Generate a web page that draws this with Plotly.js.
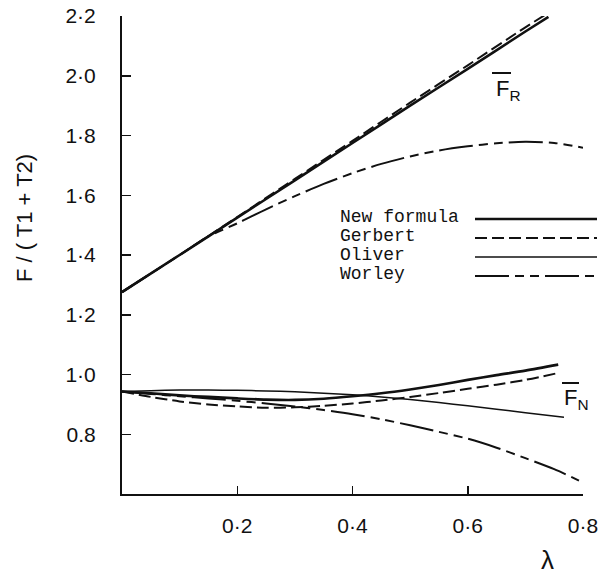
<!DOCTYPE html>
<html>
<head>
<meta charset="utf-8">
<script src="https://cdn.plot.ly/plotly-3.0.1.min.js"></script>
<style>html,body{margin:0;padding:0;background:#fff;}#chart{width:598px;height:575px;}</style>
</head>
<body>
<div id="chart"></div>
<script>
// ---- data ----
const seriesNames = ["New formula", "Gerbert", "Oliver", "Worley"];

// upper family (F_R)
const lamR_new = [0, 0.1, 0.2, 0.3, 0.4, 0.5, 0.6, 0.7, 0.74];
const fr_new   = [1.276, 1.40, 1.525, 1.65, 1.775, 1.90, 2.023, 2.148, 2.197];
const lamR_ger = [0, 0.1, 0.2, 0.3, 0.4, 0.5, 0.6, 0.7, 0.742];
const fr_ger   = [1.276, 1.40, 1.527, 1.655, 1.782, 1.91, 2.035, 2.162, 2.213];
const lamR_wor = [0, 0.1, 0.15, 0.2, 0.25, 0.3, 0.35, 0.4, 0.45, 0.5, 0.55, 0.6, 0.65, 0.7, 0.75, 0.8];
const fr_wor   = [1.276, 1.40, 1.462, 1.506, 1.553, 1.597, 1.638, 1.674, 1.705, 1.73, 1.75, 1.764, 1.774, 1.779, 1.775, 1.759];

// lower family (F_N)
const lamN_new = [0, 0.05, 0.1, 0.15, 0.2, 0.25, 0.3, 0.35, 0.4, 0.45, 0.5, 0.55, 0.6, 0.65, 0.7, 0.757];
const fn_new   = [0.943, 0.937, 0.93, 0.925, 0.92, 0.916, 0.915, 0.919, 0.927, 0.937, 0.95, 0.965, 0.982, 0.998, 1.013, 1.033];
const lamN_ger = [0, 0.05, 0.1, 0.15, 0.2, 0.25, 0.3, 0.35, 0.4, 0.45, 0.5, 0.55, 0.6, 0.65, 0.7, 0.757];
const fn_ger   = [0.943, 0.925, 0.91, 0.9, 0.893, 0.889, 0.89, 0.895, 0.903, 0.913, 0.925, 0.938, 0.952, 0.966, 0.982, 1.005];
const lamN_oli = [0, 0.05, 0.1, 0.15, 0.2, 0.25, 0.3, 0.35, 0.4, 0.45, 0.5, 0.55, 0.6, 0.65, 0.7, 0.767];
const fn_oli   = [0.943, 0.946, 0.948, 0.948, 0.947, 0.945, 0.942, 0.937, 0.932, 0.925, 0.916, 0.906, 0.895, 0.884, 0.872, 0.857];
const lamN_wor = [0, 0.05, 0.1, 0.15, 0.2, 0.25, 0.3, 0.35, 0.4, 0.45, 0.5, 0.55, 0.6, 0.65, 0.7, 0.75, 0.793];
const fn_wor   = [0.943, 0.935, 0.927, 0.92, 0.912, 0.903, 0.893, 0.881, 0.867, 0.85, 0.83, 0.808, 0.785, 0.755, 0.72, 0.683, 0.645];

const xTickVals = [0.2, 0.4, 0.6, 0.8];
const xTickText = ["0·2", "0·4", "0·6", "0·8"];
const yTickVals = [0.8, 1.0, 1.2, 1.4, 1.6, 1.8, 2.0, 2.2];
const yTickText = ["0.8", "1·0", "1·2", "1·4", "1·6", "1·8", "2·0", "2·2"];

// ---- styles ----
const INK = "#111111";
const styles = {
  "New formula": {width: 2.6, dash: "solid"},
  "Gerbert":     {width: 2.0, dash: "12px,5px"},
  "Oliver":      {width: 1.5, dash: "solid"},
  "Worley":      {width: 2.0, dash: "34px,6px,9px,6px,9px,6px"}
};
function tr(x, y, name) {
  return {x: x, y: y, name: name, type: "scatter", mode: "lines", showlegend: false,
          hoverinfo: "skip", line: {color: INK, width: styles[name].width, dash: styles[name].dash, shape: "spline", smoothing: 0.8}};
}
const data = [
  tr(lamR_wor, fr_wor, "Worley"),
  tr(lamR_ger, fr_ger, "Gerbert"),
  tr(lamR_new, fr_new, "New formula"),
  tr(lamN_oli, fn_oli, "Oliver"),
  tr(lamN_wor, fn_wor, "Worley"),
  tr(lamN_ger, fn_ger, "Gerbert"),
  tr(lamN_new, fn_new, "New formula")
];

// legend built from text + sample lines (paper coords)
const L = 122, T = 16, W = 461, H = 478;
const px = v => (v - L) / W;
const py = v => (T + H - v) / H;
const legRows = [217, 236, 255, 274];
const annotations = [];
const shapes = [];
seriesNames.forEach((n, i) => {
  annotations.push({xref: "paper", yref: "paper", x: px(338), y: py(legRows[i]), xanchor: "left", yanchor: "middle",
    text: n, showarrow: false, font: {family: "Liberation Mono", size: 18, color: INK}});
  shapes.push({type: "line", xref: "paper", yref: "paper", x0: px(475), x1: px(597), y0: py(legRows[i] + 2), y1: py(legRows[i] + 2),
    line: {color: INK, width: styles[n].width, dash: styles[n].dash}});
});
// curve labels
const lab = {family: "Liberation Sans", size: 22, color: INK};
annotations.push({xref: "paper", yref: "paper", x: px(494), y: py(90), xanchor: "left", yanchor: "middle",
  text: "F<sub>R</sub>", showarrow: false, font: lab});
shapes.push({type: "line", xref: "paper", yref: "paper", x0: px(492), x1: px(511), y0: py(73), y1: py(73), line: {color: INK, width: 2}});
annotations.push({xref: "paper", yref: "paper", x: px(562), y: py(399), xanchor: "left", yanchor: "middle",
  text: "F<sub>N</sub>", showarrow: false, font: lab});
shapes.push({type: "line", xref: "paper", yref: "paper", x0: px(562), x1: px(579), y0: py(383), y1: py(383), line: {color: INK, width: 2}});
// axis titles
annotations.push({xref: "paper", yref: "paper", x: px(24), y: py(218), xanchor: "center", yanchor: "middle", textangle: -90,
  text: "F / ( T1 + T2)", showarrow: false, font: {family: "Liberation Sans", size: 22, color: INK}});
annotations.push({xref: "paper", yref: "paper", x: px(547), y: py(560), xanchor: "center", yanchor: "middle",
  text: "λ", showarrow: false, font: {family: "Liberation Sans", size: 26, color: INK}});

const tickFont = {family: "Liberation Sans", size: 21, color: INK};
const layout = {
  width: 598, height: 575,
  margin: {l: L, r: 598 - L - W, t: T, b: 575 - T - H, pad: 0},
  paper_bgcolor: "#fff", plot_bgcolor: "#fff",
  showlegend: false,
  xaxis: {range: [0, 0.8], tickvals: xTickVals, ticktext: xTickText, ticks: "inside", ticklen: 8, tickwidth: 1.5, tickcolor: INK,
          showline: true, linecolor: INK, linewidth: 2, showgrid: false, zeroline: false, tickfont: tickFont, ticklabelstandoff: 12,
          ticklabeloverflow: "allow"},
  yaxis: {range: [0.6, 2.2], tickvals: yTickVals, ticktext: yTickText, ticks: "inside", ticklen: 9, tickwidth: 1.5, tickcolor: INK,
          showline: true, linecolor: INK, linewidth: 2, showgrid: false, zeroline: false, tickfont: tickFont, ticklabelstandoff: 20,
          ticklabeloverflow: "allow"},
  annotations: annotations,
  shapes: shapes
};
Plotly.newPlot("chart", data, layout, {staticPlot: true, displayModeBar: false});
</script>
</body>
</html>
